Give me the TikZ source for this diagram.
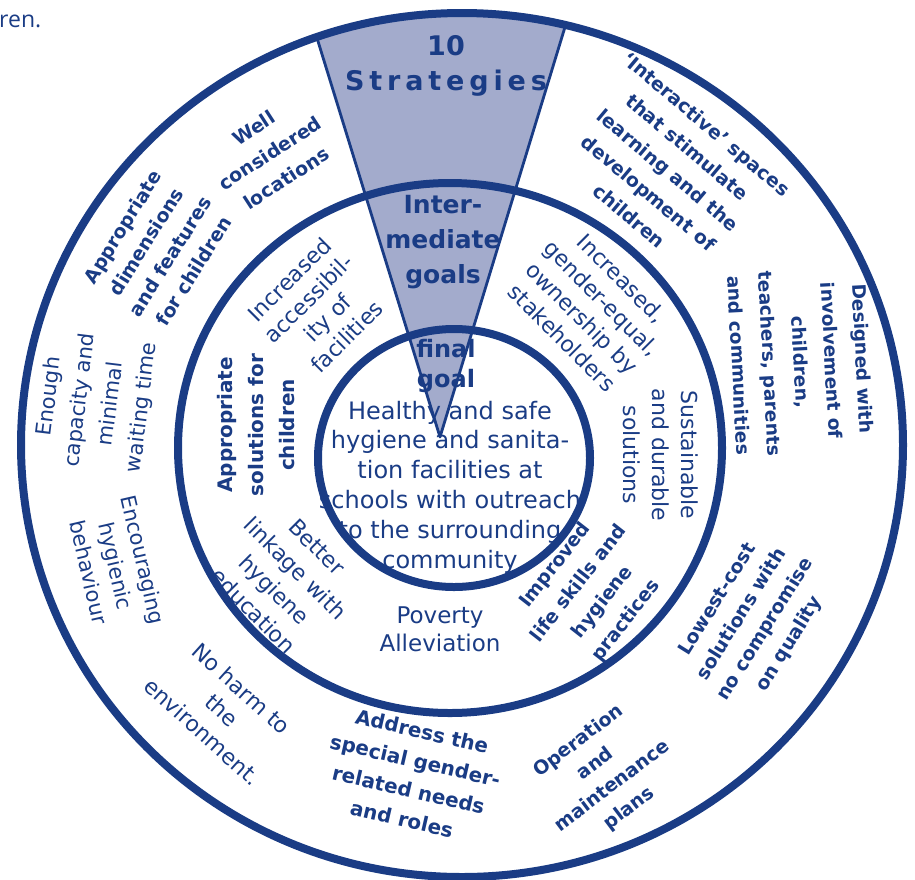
\documentclass[tikz,border=0pt]{standalone}
\usepackage{fontspec}
\setmainfont{DejaVu Sans}
\newfontfamily\captionfont{Open Sans}
\newfontfamily\spacedfont[LetterSpace=18]{DejaVu Sans}
\usetikzlibrary{calc}
\definecolor{ringblue}{HTML}{1A3C85}
\definecolor{wedgegrey}{HTML}{A3ABCC}

\begin{document}
\begin{tikzpicture}[x=1pt,y=-1pt,
		ringline/.style={draw=ringblue,line width=8pt},
		wedgeline/.style={draw=ringblue,line width=2.8pt,line join=round},
		regtext/.style={text=ringblue,align=center,inner sep=0pt,font=\fontsize{21}{29}\selectfont},
		boldtext/.style={text=ringblue,align=center,inner sep=0pt,font=\bfseries\fontsize{19}{28}\selectfont},
		wedgetext/.style={text=ringblue,align=center,inner sep=0pt,font=\bfseries\fontsize{25}{35}\selectfont},
		coretext/.style={text=ringblue,align=center,inner sep=0pt,font=\fontsize{24}{29.8}\selectfont}]
	\useasboundingbox (0,0) rectangle (915,879);
	\coordinate (c1) at (462,445);
	\coordinate (c2) at (450,448);
	\coordinate (c3) at (454,458);
	\coordinate (tip) at (440,437);
	\coordinate (wl) at (317,38);
	\coordinate (wr) at (565,27);
	%
	\begin{scope}
		\clip (c1) ellipse [x radius=441, y radius=432];
		\fill[wedgegrey] (tip) -- ($(tip)!1.3!(wl)$) -- ($(tip)!1.3!(wr)$) -- cycle;
	\end{scope}
	\draw[wedgeline] (wl) -- (tip) -- (wr);
	\draw[ringline] (c1) ellipse [x radius=441, y radius=432];
	\draw[ringline] (c2) ellipse [x radius=272, y radius=265];
	\draw[ringline] (c3) ellipse [x radius=136, y radius=129];
	%
	\node[anchor=west,text=ringblue,inner sep=0pt,font=\captionfont\fontsize{23}{27}\selectfont] (cut) at (-1,21) {ren.};
	%
	\node[wedgetext] (strategies) at (446,66) {{\fontsize{27}{35}\selectfont 10}\\{\spacedfont\fontsize{27}{35}\selectfont Strategies}};
	\node[wedgetext] (midgoals) at (443,242) {Inter-\\mediate\\goals};
	\node[wedgetext,font=\bfseries\fontsize{24}{30}\selectfont] (finalgoal) at (446,366) {final\\goal};
	\node[coretext] (core) at (450,487) {Healthy and safe\\hygiene and sanita-\\tion facilities at\\schools with outreach\\to the surrounding\\community};
	\node[coretext,font=\fontsize{23}{28}\selectfont] (poverty) at (440,629) {Poverty\\Alleviation};
	%
	\node[boldtext,rotate=58] (dimensions) at (158,249) {Appropriate\\dimensions\\and features\\for children};
	\node[boldtext,rotate=33,font=\bfseries\fontsize{19}{30}\selectfont] (locations) at (270,153) {Well\\considered\\locations};
	\node[boldtext,rotate=-40,font=\bfseries\fontsize{19}{30}\selectfont] (interactive) at (668,170) {`Interactive' spaces\\that stimulate\\learning and the\\development of\\children};
	\node[boldtext,rotate=-87,font=\bfseries\fontsize{18.5}{31}\selectfont] (designed) at (801,362) {Designed with\\involvement of\\children,\\teachers, parents\\and communities};
	\node[boldtext,rotate=58] (lowcost) at (754,622) {Lowest-cost\\solutions with\\no compromise\\on quality};
	\node[boldtext,rotate=37] (maintenance) at (604,775) {Operation\\and\\maintenance\\plans};
	\node[boldtext,rotate=-13,font=\bfseries\fontsize{20}{30}\selectfont] (gender) at (412,775) {Address the\\special gender-\\related needs\\and roles};
	\node[regtext,rotate=-42,font=\fontsize{22}{29}\selectfont] (environment) at (222,710) {No harm to\\the\\environment.};
	\node[regtext,rotate=-77,font=\fontsize{21}{28}\selectfont] (hygienic) at (116,566) {Encouraging\\hygienic\\behaviour};
	\node[regtext,rotate=83,font=\fontsize{21}{31}\selectfont] (capacity) at (96,402) {Enough\\capacity and\\minimal\\waiting time};
	%
	\node[regtext,rotate=45,font=\fontsize{22}{27}\selectfont] (accessibility) at (318,308) {Increased\\accessibil-\\ity of\\facilities};
	\node[boldtext,rotate=90,font=\bfseries\fontsize{20}{31}\selectfont] (solutions) at (256,425) {Appropriate\\solutions for\\children};
	\node[regtext,rotate=-45,font=\fontsize{22}{28}\selectfont] (ownership) at (592,308) {Increased,\\gender-equal,\\ownership by\\stakeholders};
	\node[regtext,rotate=-90,font=\fontsize{22}{29}\selectfont] (durable) at (661,455) {Sustainable\\and durable\\solutions};
	\node[boldtext,rotate=52,font=\bfseries\fontsize{19}{30}\selectfont] (lifeskills) at (591,593) {Improved\\life skills and\\hygiene\\practices};
	\node[regtext,rotate=-45,font=\fontsize{22}{30}\selectfont] (linkage) at (285,579) {Better\\linkage with\\hygiene\\education};
\end{tikzpicture}
\end{document}
